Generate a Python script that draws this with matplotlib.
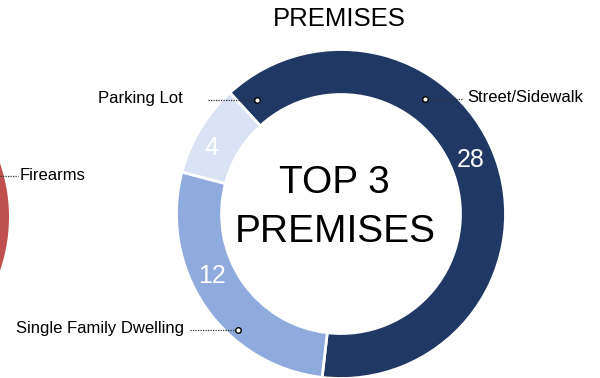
import matplotlib
matplotlib.use("Agg")
import matplotlib.pyplot as plt

plt.rcParams["font.family"] = ["Liberation Sans", "DejaVu Sans"]

# Premises breakdown
premises = ["Street/Sidewalk", "Single Family Dwelling", "Parking Lot"]
counts = [28, 12, 4]
colors = ["#1F3864", "#8FAADC", "#DAE3F3"]

# Neighbouring weapons chart (only its edge is in view)
weapons = ["Firearms"]
weapon_counts = [1]
weapon_colors = ["#C0504D"]

W, H = 600, 378


def px(x, y):
    """Pixel position (origin top-left) to axes data coordinates."""
    return x, H - y


fig = plt.figure(figsize=(6, 3.78), dpi=100)
ax = fig.add_axes([0, 0, 1, 1])

ring = dict(width=45, edgecolor="white", linewidth=2)

ax.pie(counts, colors=colors, startangle=132.5, counterclock=False,
       center=px(341, 214), radius=164.5, wedgeprops=ring)
ax.pie(weapon_counts, colors=weapon_colors, startangle=90,
       center=px(-155.5, 217), radius=164.5,
       wedgeprops=dict(width=45, edgecolor="none"))

ax.set_xlim(0, W)
ax.set_ylim(0, H)
ax.set_aspect("equal")
ax.axis("off")

# Values inside the ring
value_pos = [(471, 160), (212, 276), (211, 148)]
for v, (x, y) in zip(counts, value_pos):
    ax.text(*px(x, y), str(v), color="white", fontsize=18,
            ha="center", va="center")

# Centre caption and title
ax.text(*px(334, 183), "TOP 3", fontsize=28, ha="center", va="center")
ax.text(*px(335, 232), "PREMISES", fontsize=28, ha="center", va="center")
ax.text(*px(339, 19), "PREMISES", fontsize=18.5, ha="center", va="center")

# Leader lines and category labels
dot = dict(color="#333333", linestyle=(0, (1, 1)), linewidth=0.9)
leaders = [
    # label, marker (x, y), line start x, text x, alignment
    (premises[0], (425, 99), 462, 467, "left"),
    (premises[2], (257, 100), 208, 183, "right"),
    (premises[1], (238, 330), 190, 184, "right"),
]
for label, (mx, my), lx, tx, ha in leaders:
    ax.plot([lx, mx], [H - my, H - my], **dot)
    ax.plot(mx, H - my, marker="o", markersize=4, markerfacecolor="white",
            markeredgecolor="black", markeredgewidth=1)
    ax.text(*px(tx, my - 1), label, fontsize=12, ha=ha, va="center")

ax.plot([0, 18], [H - 176, H - 176], **dot)
ax.text(*px(20, 175), weapons[0], fontsize=12, ha="left", va="center")

fig.savefig("out.png", dpi=100)
